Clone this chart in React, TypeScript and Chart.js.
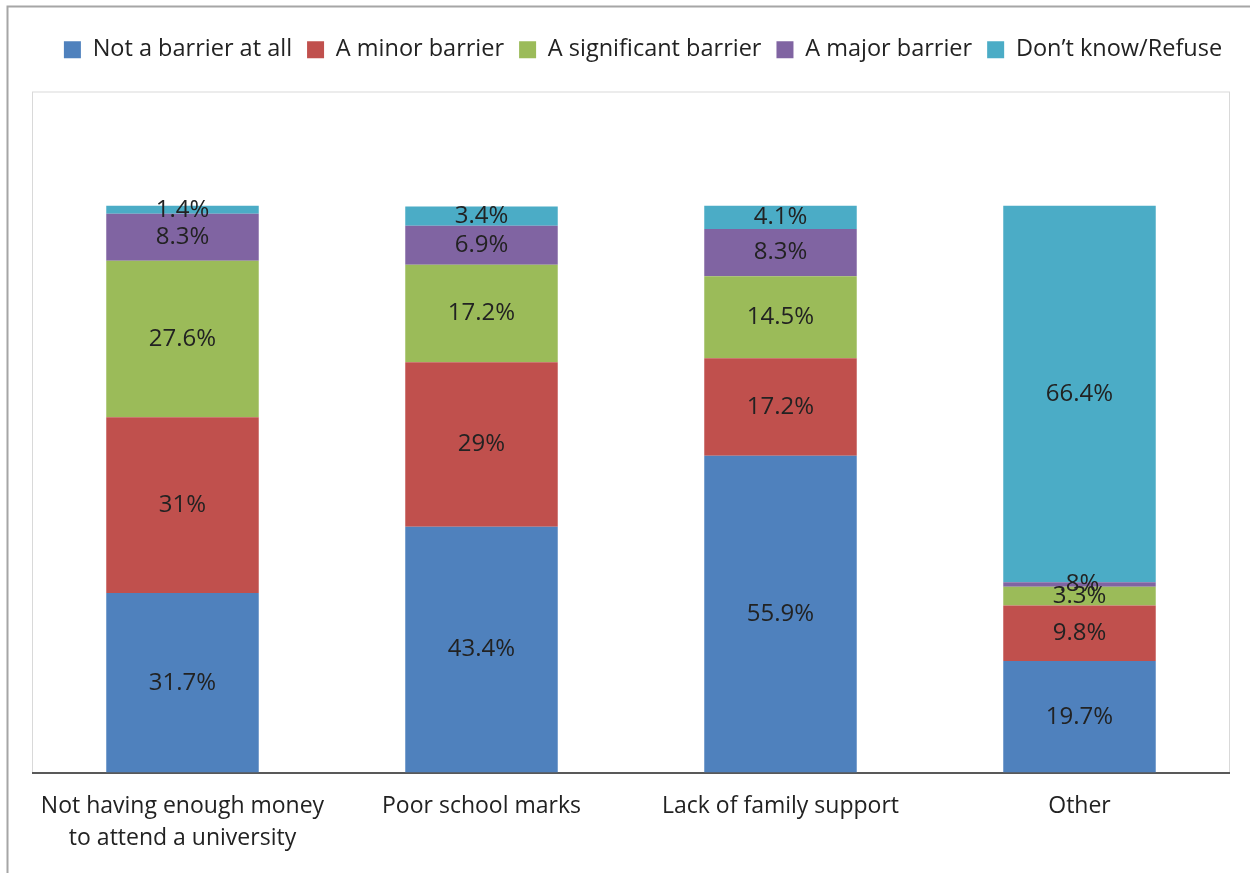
import React, { useEffect, useRef } from 'react';
import { Chart, registerables } from 'chart.js';

Chart.register(...registerables);

const categories: (string | string[])[] = [
  ['Not having enough money', 'to attend a university'],
  'Poor school marks',
  'Lack of family support',
  'Other',
];
const seriesNames = [
  'Not a barrier at all',
  'A minor barrier',
  'A significant barrier',
  'A major barrier',
  'Don\u2019t know/Refuse',
];
const notABarrier = [31.7, 43.4, 55.9, 19.7];
const minorBarrier = [31, 29, 17.2, 9.8];
const significantBarrier = [27.6, 17.2, 14.5, 3.3];
const majorBarrier = [8.3, 6.9, 8.3, 0.8];
const dontKnow = [1.4, 3.4, 4.1, 66.4];
const seriesColors = ['#4f81bd', '#c0504d', '#9bbb59', '#8064a2', '#4bacc6'];

const FONT = '"Open Sans", "Noto Sans", sans-serif';
const TEXT = '#222222';

const fmt = (v: number) => (v < 1 ? String(v).slice(1) : String(v)) + '%';

const framePlugin = {
  id: 'frame',
  beforeDraw(chart: any) {
    const { ctx, width, height, chartArea } = chart;
    ctx.save();
    ctx.fillStyle = '#ffffff';
    ctx.fillRect(0, 0, width, height);
    ctx.strokeStyle = '#a6a6a6';
    ctx.lineWidth = 2;
    ctx.beginPath();
    ctx.moveTo(7.5, height);
    ctx.lineTo(7.5, 6.5);
    ctx.lineTo(width, 6.5);
    ctx.stroke();
    ctx.strokeStyle = '#d9d9d9';
    ctx.lineWidth = 1;
    ctx.strokeRect(chartArea.left - 0.5, chartArea.top - 0.5, chartArea.right - chartArea.left + 1, chartArea.bottom - chartArea.top + 1);
    ctx.restore();
  },
};

const legendShiftPlugin = {
  id: 'legendShift',
  afterLayout(chart: any) {
    const lg = chart.legend;
    if (!lg) return;
    const dx = 12;
    const dy = -21;
    lg.left += dx;
    lg.right += dx;
    lg.top += dy;
    lg.bottom += dy;
  },
};

const labelPlugin = {
  id: 'segLabels',
  afterDatasetsDraw(chart: any) {
    const { ctx } = chart;
    ctx.save();
    ctx.font = `24px ${FONT}`;
    ctx.fillStyle = TEXT;
    ctx.textAlign = 'center';
    ctx.textBaseline = 'middle';
    chart.data.datasets.forEach((ds: any, di: number) => {
      const meta = chart.getDatasetMeta(di);
      meta.data.forEach((el: any, i: number) => {
        const v = ds.data[i];
        const y = (el.y + el.base) / 2;
        ctx.fillText(fmt(v), el.x, y);
      });
    });
    ctx.restore();
  },
};

export default function App() {
  const ref = useRef<HTMLCanvasElement | null>(null);
  useEffect(() => {
    if (!ref.current) return;
    const series = [notABarrier, minorBarrier, significantBarrier, majorBarrier, dontKnow];
    const chart = new Chart(ref.current, {
      type: 'bar',
      data: {
        labels: categories,
        datasets: series.map((d, i) => ({
          label: seriesNames[i],
          data: d,
          backgroundColor: seriesColors[i],
          borderWidth: 0,
          categoryPercentage: 1,
          barPercentage: 0.51,
        })),
      },
      options: {
        responsive: false,
        animation: false,
        devicePixelRatio: 1,
        layout: { padding: { top: 44, left: 33, right: 21, bottom: 0 } },
        plugins: {
          legend: {
            position: 'top',
            labels: {
              boxWidth: 17,
              boxHeight: 17,
              padding: 15,
              color: TEXT,
              font: { size: 23.5, family: FONT },
            },
          },
          tooltip: { enabled: false },
        },
        scales: {
          x: {
            stacked: true,
            grid: { display: false, drawTicks: false },
            border: { display: true, color: '#595959', width: 2 },
            ticks: {
              color: TEXT,
              font: { size: 23, family: FONT, lineHeight: 1.4 },
              padding: 18,
              maxRotation: 0,
              autoSkip: false,
            },
          },
          y: {
            stacked: true,
            display: false,
            min: 0,
            max: 120,
          },
        },
      },
      plugins: [framePlugin, legendShiftPlugin, labelPlugin],
    });
    return () => chart.destroy();
  }, []);
  return (
    <div style={{ position: 'fixed', left: 0, top: 0, width: 1250, height: 873 }}>
      <canvas ref={ref} width={1250} height={873} />
    </div>
  );
}
